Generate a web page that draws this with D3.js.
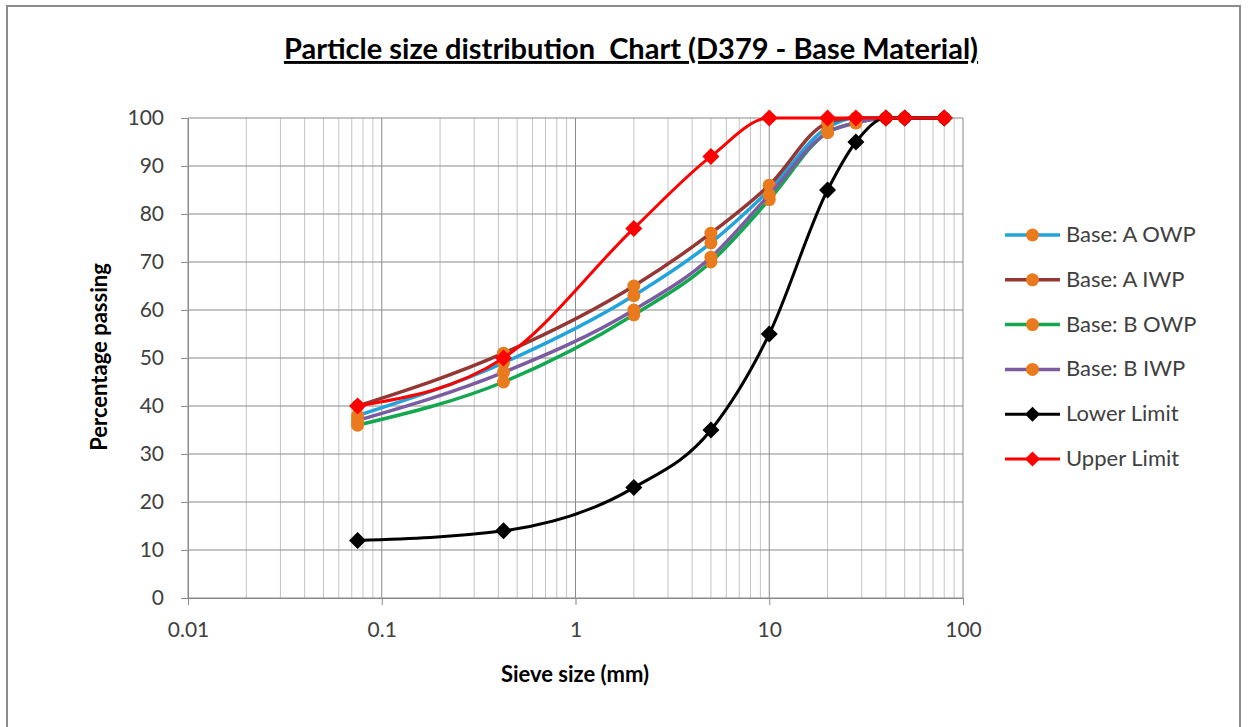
<!DOCTYPE html>
<html>
<head>
<meta charset="utf-8">
<script src="https://cdn.jsdelivr.net/npm/d3@7"></script>
<style>
  body { margin: 0; background: #fff; }
  text { font-family: Lato, "Open Sans", sans-serif; }
</style>
</head>
<body>
<div id="chart"></div>
<script>
// sieve sizes (mm) and percentage passing per series
const sieveSizes = [0.075, 0.425, 2, 5, 10, 20, 28, 40, 50, 80];
const baseAOWP = [38, 49, 63, 74, 85, 98, 100, 100, 100, 100];
const baseAIWP = [40, 51, 65, 76, 86, 99, 100, 100, 100, 100];
const baseBOWP = [36, 45, 59, 70, 83, 97, 99, 100, 100, 100];
const baseBIWP = [37, 47, 60, 71, 84, 97, 99, 100, 100, 100];
const lowerLimit = [12, 14, 23, 35, 55, 85, 95, 100, 100, 100];
const upperLimit = [40, 50, 77, 92, 100, 100, 100, 100, 100, 100];

const seriesNames = ["Base: A OWP", "Base: A IWP", "Base: B OWP", "Base: B IWP", "Lower Limit", "Upper Limit"];
const xTicks = [0.01, 0.1, 1, 10, 100];
const yTicks = [0, 10, 20, 30, 40, 50, 60, 70, 80, 90, 100];

const series = [
	{ name: seriesNames[0], values: baseAOWP, colour: "#21a3dc", marker: "circle" },
	{ name: seriesNames[1], values: baseAIWP, colour: "#953735", marker: "circle" },
	{ name: seriesNames[2], values: baseBOWP, colour: "#12a84f", marker: "circle" },
	{ name: seriesNames[3], values: baseBIWP, colour: "#7b5ca0", marker: "circle" },
	{ name: seriesNames[4], values: lowerLimit, colour: "#000000", marker: "diamond" },
	{ name: seriesNames[5], values: upperLimit, colour: "#ff0000", marker: "diamond" }
];

const W = 1253, H = 727;
const plot = { left: 188, right: 963, top: 118, bottom: 598 };

const svg = d3.select("#chart").append("svg")
	.attr("width", W)
	.attr("height", H);

// chart frame
svg.append("rect")
	.attr("x", 7).attr("y", 6)
	.attr("width", 1233).attr("height", 740)
	.attr("fill", "#fff")
	.attr("stroke", "#8c8c8c")
	.attr("stroke-width", 2);

const x = d3.scaleLog().domain([0.01, 100]).range([plot.left, plot.right]);
const y = d3.scaleLinear().domain([0, 100]).range([plot.bottom, plot.top]);

// minor vertical gridlines
const minor = [];
xTicks.slice(0, -1).forEach((d) => {
	for (let k = 2; k <= 9; k++) minor.push(d * k);
});
svg.append("g")
	.selectAll("line")
	.data(minor)
	.join("line")
	.attr("x1", (d) => x(d)).attr("x2", (d) => x(d))
	.attr("y1", plot.top).attr("y2", plot.bottom)
	.attr("stroke", "#c4c4c4")
	.attr("stroke-width", 1);

// major gridlines
svg.append("g")
	.selectAll("line")
	.data(xTicks)
	.join("line")
	.attr("x1", (d) => x(d)).attr("x2", (d) => x(d))
	.attr("y1", plot.top).attr("y2", plot.bottom)
	.attr("stroke", "#8a8a8a")
	.attr("stroke-width", 1);

svg.append("g")
	.selectAll("line")
	.data(yTicks)
	.join("line")
	.attr("x1", plot.left).attr("x2", plot.right)
	.attr("y1", (d) => y(d)).attr("y2", (d) => y(d))
	.attr("stroke", "#8a8a8a")
	.attr("stroke-width", 1);

// axes
const yAxis = svg.append("g")
	.attr("transform", `translate(${plot.left},0)`)
	.call(d3.axisLeft(y).tickValues(yTicks).tickSize(7).tickPadding(17).tickSizeOuter(0));
const xAxis = svg.append("g")
	.attr("transform", `translate(0,${plot.bottom})`)
	.call(d3.axisBottom(x).tickValues(xTicks).tickFormat((d) => String(d)).tickSize(7).tickPadding(17).tickSizeOuter(0));

[xAxis, yAxis].forEach((a) => {
	a.select(".domain").attr("stroke", "#8a8a8a");
	a.selectAll(".tick line").attr("stroke", "#8a8a8a");
	a.selectAll("text")
		.attr("fill", "#404040")
		.style("font-size", "21px")
		.style("font-family", "Lato, sans-serif");
});

// lines and markers, clipped to the plot area
svg.append("clipPath").attr("id", "clip")
	.append("rect")
	.attr("x", plot.left - 12).attr("y", plot.top - 12)
	.attr("width", plot.right - plot.left + 24).attr("height", plot.bottom - plot.top + 24);

const line = d3.line()
	.x((d) => x(d[0]))
	.y((d) => y(d[1]))
	.curve(d3.curveMonotoneX);

const diamond = (s) => `M0,${-s}L${s},0L0,${s}L${-s},0Z`;

const gSeries = svg.append("g").attr("clip-path", "url(#clip)");
series.forEach((s) => {
	const pts = sieveSizes.map((v, i) => [v, s.values[i]]);
	gSeries.append("path")
		.datum(pts)
		.attr("d", line)
		.attr("fill", "none")
		.attr("stroke", s.colour)
		.attr("stroke-width", s.marker === "circle" ? 3.5 : 3);
	if (s.marker === "circle") {
		gSeries.append("g")
			.selectAll("circle")
			.data(pts)
			.join("circle")
			.attr("cx", (d) => x(d[0]))
			.attr("cy", (d) => y(d[1]))
			.attr("r", 6.5)
			.attr("fill", "#ea7a1e");
	} else {
		gSeries.append("g")
			.selectAll("path")
			.data(pts)
			.join("path")
			.attr("transform", (d) => `translate(${x(d[0])},${y(d[1])})`)
			.attr("d", diamond(8.5))
			.attr("fill", s.colour);
	}
});

// title
svg.append("text")
	.attr("x", 631).attr("y", 59)
	.attr("text-anchor", "middle")
	.attr("fill", "#000")
	.style("font-size", "29px")
	.style("font-weight", "bold")
	.style("text-decoration", "underline")
	.style("white-space", "pre")
	.text("Particle size distribution  Chart (D379 - Base Material)");

// axis titles
svg.append("text")
	.attr("x", 575).attr("y", 682)
	.attr("text-anchor", "middle")
	.attr("fill", "#000")
	.style("font-size", "22px")
	.style("font-weight", "bold")
	.text("Sieve size (mm)");

svg.append("text")
	.attr("transform", "translate(107,357) rotate(-90)")
	.attr("text-anchor", "middle")
	.attr("fill", "#000")
	.style("font-size", "22px")
	.style("font-weight", "bold")
	.text("Percentage passing");

// legend
const legend = svg.append("g").attr("transform", "translate(1005,235)");
const rows = legend.selectAll("g")
	.data(series)
	.join("g")
	.attr("transform", (d, i) => `translate(0,${i * 44.8})`);
rows.append("line")
	.attr("x1", 0).attr("x2", 55)
	.attr("stroke", (d) => d.colour)
	.attr("stroke-width", (d) => (d.marker === "circle" ? 3.5 : 3));
rows.each(function (d) {
	const g = d3.select(this);
	if (d.marker === "circle") {
		g.append("circle").attr("cx", 27.5).attr("r", 6.5).attr("fill", "#ea7a1e");
	} else {
		g.append("path").attr("transform", "translate(27.5,0)").attr("d", diamond(7.5)).attr("fill", d.colour);
	}
});
rows.append("text")
	.attr("x", 61).attr("y", 7)
	.attr("fill", "#404040")
	.style("font-size", "22px")
	.text((d) => d.name);
</script>
</body>
</html>
